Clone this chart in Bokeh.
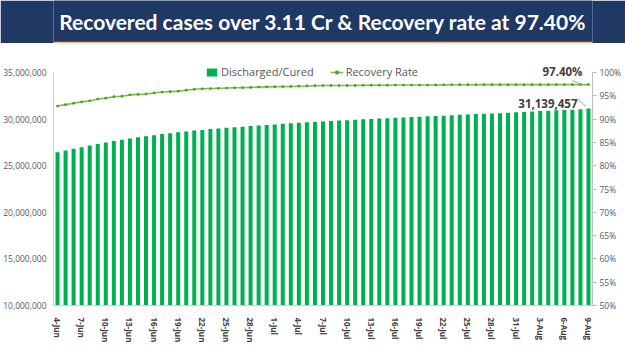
from bokeh.plotting import figure
from bokeh.models import (Range1d, LinearAxis, FixedTicker, NumeralTickFormatter,
                          PrintfTickFormatter, Label, Span, ColumnDataSource)
from bokeh.layouts import column
from bokeh.embed import file_html
from bokeh.resources import INLINE

# ---------------- data ----------------
title_text = "Recovered cases over 3.11 Cr & Recovery rate at 97.40%"
dates = ([f"{d}-Jun" for d in range(4, 31)] + [f"{d}-Jul" for d in range(1, 32)]
         + [f"{d}-Aug" for d in range(1, 10)])
cured = [26450000, 26630000, 26810000, 26990000, 27160000, 27340000, 27500000, 27660000,
         27790000, 27910000, 28040000, 28160000, 28280000, 28390000, 28490000, 28580000,
         28680000, 28770000, 28840000, 28930000, 28990000, 29060000, 29130000, 29190000,
         29250000, 29310000, 29370000,
         29430000, 29490000, 29550000, 29610000, 29660000, 29700000, 29750000, 29800000,
         29840000, 29890000, 29930000, 29980000, 30010000, 30060000, 30100000, 30140000,
         30180000, 30220000, 30260000, 30300000, 30340000, 30370000, 30420000, 30460000,
         30500000, 30540000, 30570000, 30600000, 30640000, 30690000, 30730000,
         30770000, 30810000, 30860000, 30900000, 30940000, 30970000, 31010000, 31060000,
         31139457]
rate = [92.8, 93.1, 93.4, 93.7, 93.9, 94.3, 94.5, 94.8, 94.9, 95.2, 95.3, 95.4, 95.6, 95.8,
        95.9, 96.0, 96.2, 96.4, 96.5, 96.56, 96.61, 96.66, 96.72, 96.75, 96.80, 96.87, 96.92,
        96.94, 96.97, 97.01, 97.06, 97.11, 97.17, 97.20, 97.22, 97.20, 97.22, 97.22, 97.25,
        97.28, 97.28, 97.28, 97.31, 97.31, 97.31, 97.31, 97.31, 97.32, 97.35, 97.36, 97.37,
        97.37, 97.38, 97.39, 97.39, 97.39, 97.39, 97.39,
        97.39, 97.39, 97.39, 97.39, 97.40, 97.40, 97.40, 97.40, 97.40]
left_ticks = [10000000, 15000000, 20000000, 25000000, 30000000, 35000000]
right_ticks = [50, 55, 60, 65, 70, 75, 80, 85, 90, 95, 100]
label_every = 3

n = len(dates)
idx = list(range(n))
src = ColumnDataSource(dict(x=idx, cured=cured, rate=rate))

# ---------------- banner ----------------
navy = "#1F3864"
b = figure(width=625, height=43, x_range=(0, 1), y_range=(0, 1), toolbar_location=None,
           output_backend="svg", min_border=0, background_fill_color=navy,
           border_fill_color=navy, outline_line_color=None)
b.axis.visible = False
b.grid.visible = False
b.add_layout(Label(x=0.5, y=0.52, text=title_text, text_align="center", text_baseline="middle",
                   text_color="white", text_font="Lato", text_font_style="bold",
                   text_font_size="21px"))
b.add_layout(Span(location=0.02, dimension="width", line_color="#F4B183", line_width=2))

# ---------------- main chart ----------------
# the plotting frame reaches a little above the top tick so that the legend and
# end labels are not clipped; the axis lines are bounded to the tick span
axis_px = 233          # pixel height of the 10M..35M span
pad_px = 19            # extra frame height above the top tick
lo, hi = left_ticks[0], left_ticks[-1]
rlo, rhi = right_ticks[0], right_ticks[-1]
y_end = hi + (hi - lo) * pad_px / axis_px
r_end = rhi + (rhi - rlo) * pad_px / axis_px

p = figure(width=625, height=308, x_range=Range1d(-0.5, n - 0.5),
           y_range=Range1d(lo, y_end), toolbar_location=None,
           output_backend="svg", min_border_left=53, min_border_right=33,
           min_border_top=29 - pad_px, min_border_bottom=46, outline_line_color=None)
p.grid.visible = False
p.extra_y_ranges = {"rate": Range1d(rlo, r_end)}

p.vbar(x="x", top="cured", bottom=lo, width=0.5, source=src,
       fill_color="#00B050", line_color=None, legend_label="Discharged/Cured")
p.line(x="x", y="rate", source=src, y_range_name="rate", line_color="#7CC242",
       line_width=1.6, legend_label="Recovery Rate")
p.scatter(x="x", y="rate", source=src, y_range_name="rate", marker="circle", size=2.8,
          fill_color="#4E9A2F", line_color=None, legend_label="Recovery Rate")

grey = "#595959"
# left axis
ya = p.yaxis[0]
ya.ticker = FixedTicker(ticks=left_ticks)
ya.bounds = (lo, hi)
ya.formatter = NumeralTickFormatter(format="0,0")
ya.axis_line_color = "#D0D0D0"
ya.major_tick_line_color = None
ya.major_tick_out = 0
ya.minor_tick_line_color = None
ya.major_label_standoff = 7
ya.major_label_text_font = "Open Sans"
ya.major_label_text_font_size = "8.5px"
ya.major_label_text_color = grey

# right axis
ra = LinearAxis(y_range_name="rate", ticker=FixedTicker(ticks=right_ticks),
                formatter=PrintfTickFormatter(format="%d%%"), bounds=(rlo, rhi))
ra.axis_line_color = "#BFBFBF"
ra.major_tick_line_color = "#BFBFBF"
ra.major_tick_out = 4
ra.major_tick_in = 0
ra.minor_tick_line_color = None
ra.major_label_standoff = 3
ra.major_label_text_font = "Open Sans"
ra.major_label_text_font_size = "8.5px"
ra.major_label_text_color = grey
p.add_layout(ra, "right")

# bottom axis
xa = p.xaxis[0]
xa.ticker = FixedTicker(ticks=idx[::label_every])
xa.major_label_overrides = {i: dates[i] for i in idx}
xa.major_label_orientation = "vertical"
xa.axis_line_color = "#D0D0D0"
xa.major_tick_line_color = None
xa.minor_tick_line_color = None
xa.major_label_standoff = 6
xa.major_label_text_font = "Open Sans"
xa.major_label_text_font_style = "bold"
xa.major_label_text_font_size = "8px"
xa.major_label_text_color = "#404040"

# legend
lg = p.legend[0]
lg.orientation = "horizontal"
lg.location = (152, 226)
lg.background_fill_alpha = 0
lg.border_line_alpha = 0
lg.padding = 0
lg.margin = 0
lg.spacing = 16
lg.glyph_width = 13
lg.glyph_height = 10
lg.label_standoff = 3
lg.label_text_font = "Open Sans"
lg.label_text_font_size = "11px"
lg.label_text_color = grey

# end annotations
last = n - 1
p.add_layout(Label(x=last, y=rate[-1], y_range_name="rate", text=f"{rate[-1]:.2f}%",
                   x_offset=-6, y_offset=13, text_align="right", text_baseline="middle",
                   text_font="Open Sans", text_font_style="bold", text_font_size="11.5px",
                   text_color="#404040"))
p.add_layout(Label(x=last, y=cured[-1], text=f"{cured[-1]:,}",
                   x_offset=-11, y_offset=5, text_align="right", text_baseline="middle",
                   text_font="Open Sans", text_font_style="bold", text_font_size="11.5px",
                   text_color="#404040"))
p.segment(x0=[last - 2.0], y0=[rate[-1] + 0.85], x1=[last - 0.7], y1=[rate[-1]],
          y_range_name="rate", line_color="#A6A6A6", line_width=1)
p.segment(x0=[last - 1.3], y0=[cured[-1] + 950000], x1=[last - 0.3], y1=[cured[-1] + 200000],
          line_color="#A6A6A6", line_width=1)

layout = column(b, p, spacing=0)
open("out.html", "w").write(file_html(layout, INLINE))
